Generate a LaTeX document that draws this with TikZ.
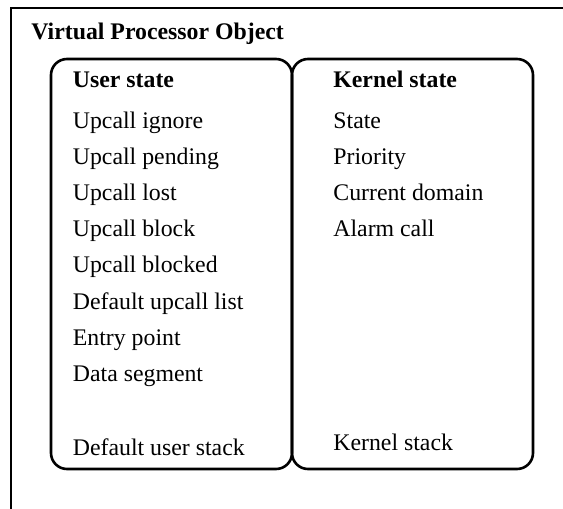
\documentclass[tikz,border=0pt]{standalone}
\usepackage{fontspec}
\setmainfont{Liberation Serif}
\begin{document}
\begin{tikzpicture}[x=0.5pt,y=-0.5pt,
  lbl/.style={anchor=base west,inner sep=0pt,font=\fontsize{11.9}{14}\selectfont},
  hdr/.style={lbl,font=\fontsize{11.9}{14}\selectfont\bfseries},
  frame/.style={draw=black,line width=1pt},
  statebox/.style={draw=black,line width=1.3pt,rounded corners=8pt}]
\useasboundingbox (0,0) rectangle (563,509);
\begin{scope}
\clip (0,0) rectangle (563,509);
\draw[frame] (11,8) rectangle (600,560);
\end{scope}
\draw[statebox] (51,59) rectangle (292,469);
\draw[statebox] (292,59) rectangle (533,469);
\node[hdr] (title) at (31,39) {Virtual Processor Object};
\node[hdr] (us) at (72.5,87) {User state};
\node[lbl] (u1) at (72.5,128) {Upcall ignore};
\node[lbl] (u2) at (72.5,164) {Upcall pending};
\node[lbl] (u3) at (72.5,200) {Upcall lost};
\node[lbl] (u4) at (72.5,236.5) {Upcall block};
\node[lbl] (u5) at (72.5,272.5) {Upcall blocked};
\node[lbl] (u6) at (72.5,309) {Default upcall list};
\node[lbl] (u7) at (72.5,345) {Entry point};
\node[lbl] (u8) at (72.5,381) {Data segment};
\node[lbl] (u9) at (72.5,455) {Default user stack};
\node[hdr] (ks) at (333,87) {Kernel state};
\node[lbl] (k1) at (333,128) {State};
\node[lbl] (k2) at (333,164) {Priority};
\node[lbl] (k3) at (333,200) {Current domain};
\node[lbl] (k4) at (333,236) {Alarm call};
\node[lbl] (k5) at (333,450.5) {Kernel stack};
\end{tikzpicture}
\end{document}
